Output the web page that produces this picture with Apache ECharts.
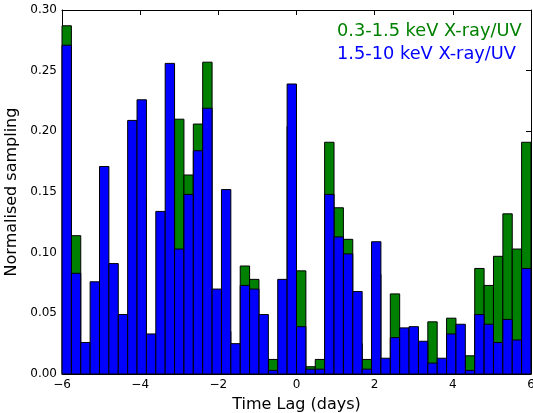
<!DOCTYPE html>
<html>
<head>
<meta charset="utf-8">
<script src="https://cdn.jsdelivr.net/npm/echarts@6/dist/echarts.min.js"></script>
<style>
  html, body { margin: 0; padding: 0; background: #fff; }
  #chart { width: 533px; height: 413px; }
</style>
</head>
<body>
<div id="chart"></div>
<script>
// histogram bins: 50 bins of 0.24 days between -6 and 6
const binStart = -6
const binWidth = 0.24
const binCount = 50

const softName = '0.3-1.5 keV X-ray/UV'
const hardName = '1.5-10 keV X-ray/UV'

// 0.3-1.5 keV (green), null where it hides behind the blue bar
const softValues = [
    0.287, 0.114, null, null, null, null, null, null, 0.145, null,
    null, null, 0.210, 0.164, 0.206, 0.257, null, 0.035, null, 0.089,
    0.078, null, 0.012, null, 0.204, 0.085, 0.006, 0.012, 0.191, 0.137,
    0.111, 0.025, 0.012, 0.082, null, 0.066, null, null, null, 0.043,
    null, 0.046, null, 0.015, 0.087, 0.073, 0.097, 0.132, 0.103, 0.191,
]

// 1.5-10 keV (blue)
const hardValues = [
    0.271, 0.083, 0.026, 0.076, 0.171, 0.091, 0.049, 0.209, 0.226, 0.033,
    0.134, 0.256, 0.103, 0.148, 0.184, 0.219, 0.070, 0.152, 0.025, 0.073,
    0.070, 0.049, 0.003, 0.078, 0.239, 0.039, 0.004, 0.004, 0.148, 0.113,
    0.099, 0.068, 0.004, 0.109, 0.013, 0.030, 0.038, 0.039, 0.027, 0.009,
    0.013, 0.033, 0.041, 0.003, 0.049, 0.041, 0.026, 0.045, 0.028, 0.087,
]

const xTicks = [-6, -4, -2, 0, 2, 4, 6]
const yTicks = [0, 0.05, 0.10, 0.15, 0.20, 0.25, 0.30]

const font = 'DejaVu Sans'

function toBins(values) {
    const out = []
    for (let i = 0; i < binCount; i++) {
        if (values[i] == null) continue
        const x0 = binStart + i * binWidth
        out.push([x0, x0 + binWidth, values[i]])
    }
    return out
}

function barRenderer(color) {
    return function (params, api) {
        const p0 = api.coord([api.value(0), api.value(2)])
        const p1 = api.coord([api.value(1), 0])
        return {
            type: 'rect',
            shape: { x: p0[0], y: p0[1], width: p1[0] - p0[0], height: p1[1] - p0[1] },
            style: { fill: color, stroke: '#000', lineWidth: 1 },
        }
    }
}

const tickStyle = { show: true, inside: true, length: 5, lineStyle: { color: '#000', width: 1 } }
const lineStyle = { show: true, onZero: false, lineStyle: { color: '#000', width: 1 } }
const minusFmt = v => (v < 0 ? '\u2212' + Math.abs(v) : String(v))

const chart = echarts.init(document.getElementById('chart'), null, { renderer: 'canvas' })

chart.setOption({
    animation: false,
    backgroundColor: '#fff',
    textStyle: { fontFamily: font },
    grid: { left: 62, right: 2, top: 10, bottom: 39, containLabel: false, outerBoundsMode: 'none' },
    legend: {
        orient: 'vertical',
        left: 326,
        top: 17,
        icon: 'none',
        itemWidth: 1,
        itemHeight: 18,
        itemGap: 5,
        selectedMode: false,
        data: [
            { name: softName, textStyle: { color: '#008000' } },
            { name: hardName, textStyle: { color: '#0000ff' } },
        ],
        textStyle: { fontFamily: font, fontSize: 17.8 },
    },
    xAxis: [
        {
            type: 'value',
            min: xTicks[0],
            max: xTicks[xTicks.length - 1],
            interval: 2,
            position: 'bottom',
            axisLine: lineStyle,
            axisTick: tickStyle,
            splitLine: { show: false },
            axisLabel: { color: '#000', fontSize: 12, margin: 5, formatter: minusFmt, fontFamily: font },
            name: 'Time Lag (days)',
            nameLocation: 'middle',
            nameGap: 23,
            nameTextStyle: { color: '#000', fontSize: 16, fontFamily: font },
        },
        {
            type: 'value',
            min: xTicks[0],
            max: xTicks[xTicks.length - 1],
            interval: 2,
            position: 'top',
            axisLine: lineStyle,
            axisTick: tickStyle,
            splitLine: { show: false },
            axisLabel: { show: false },
        },
    ],
    yAxis: [
        {
            type: 'value',
            min: yTicks[0],
            max: yTicks[yTicks.length - 1],
            interval: 0.05,
            position: 'left',
            axisLine: lineStyle,
            axisTick: tickStyle,
            splitLine: { show: false },
            axisLabel: { color: '#000', fontSize: 12, margin: 5, formatter: v => v.toFixed(2), fontFamily: font },
            name: 'Normalised sampling',
            nameLocation: 'middle',
            nameGap: 37,
            nameTextStyle: { color: '#000', fontSize: 16, fontFamily: font },
        },
        {
            type: 'value',
            min: yTicks[0],
            max: yTicks[yTicks.length - 1],
            interval: 0.05,
            position: 'right',
            axisLine: lineStyle,
            axisTick: tickStyle,
            splitLine: { show: false },
            axisLabel: { show: false },
        },
    ],
    series: [
        {
            name: softName,
            type: 'custom',
            xAxisIndex: 0,
            yAxisIndex: 0,
            renderItem: barRenderer('#008000'),
            encode: { x: [0, 1], y: 2 },
            data: toBins(softValues),
            z: 1,
        },
        {
            name: hardName,
            type: 'custom',
            xAxisIndex: 0,
            yAxisIndex: 0,
            renderItem: barRenderer('#0000ff'),
            encode: { x: [0, 1], y: 2 },
            data: toBins(hardValues),
            z: 2,
        },
    ],
})
</script>
</body>
</html>
